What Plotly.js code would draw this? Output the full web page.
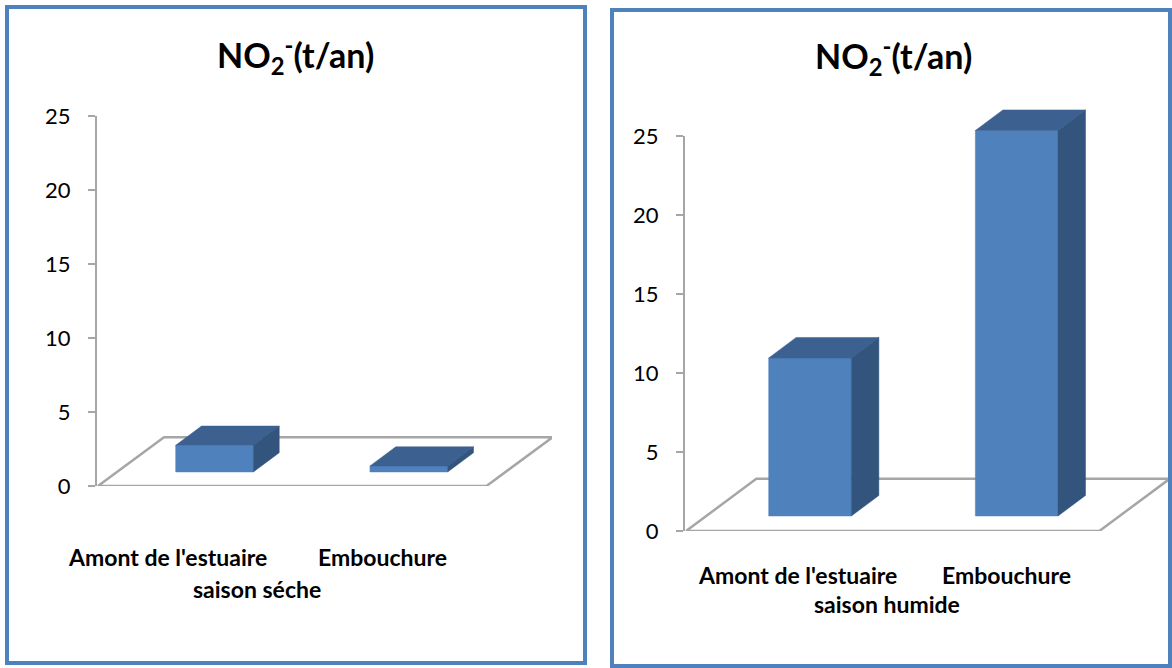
<!DOCTYPE html>
<html>
<head>
<meta charset="utf-8">
<script src="https://cdn.plot.ly/plotly-3.0.1.min.js"></script>
<style>html,body{margin:0;padding:0;background:#fff;}#chart{width:1172px;height:668px;}</style>
</head>
<body>
<div id="chart"></div>
<script>
// ---- data ----
const categories = ["Amont de l'estuaire", "Embouchure"];
const drySeasonValues = [1.8, 0.4];
const wetSeasonValues = [10, 24.4];
const seasonLabels = ["saison séche", "saison humide"];
const chartTitle = "NO<sub>2</sub><sup>-</sup>(t/an)";
const yTickValues = [0, 5, 10, 15, 20, 25];

// ---- style ----
const FONT = "Lato, 'Open Sans', sans-serif";
const FRONT = "#4F81BD", TOP = "#3C6191", SIDE = "#32547D";
const GRID = "#A6A6A6";
const BAR = {width: 0.4, dx: 0.133, dy: 1.3, base: 0.95};
const FLOOR = {x0: -0.6, x1: 1.4, dx: 0.34, dy: 3.3};
const XRANGE = [-0.605, 1.737];
const YMAX = 25, YEXT = 30; // visible axis max, drawing-axis max (same scale, taller domain)

const panels = [
  {values: drySeasonValues, season: seasonLabels[0], xa: 'x', ya: 'y', da: 'y3',
   xdom: [97/1172, 552/1172], ydom: [(668-486)/668, (668-116)/668],
   labelX: [-0.24, 0.866], labelY: (668-557)/668, seasonX: 257/1172, seasonY: (668-589)/668,
   titleX: 295/1172, titleY: (668-55)/668},
  {values: wetSeasonValues, season: seasonLabels[1], xa: 'x2', ya: 'y2', da: 'y4',
   xdom: [685/1172, 1169/1172], ydom: [(668-531)/668, (668-136)/668],
   labelX: [-0.06, 0.95], labelY: (668-575)/668, seasonX: 887/1172, seasonY: (668-604)/668,
   titleX: 893/1172, titleY: (668-57)/668}
];

const traces = [];
const annotations = [];
const layout = {
  width: 1172, height: 668, margin: {l: 0, r: 0, t: 0, b: 0},
  paper_bgcolor: '#fff', plot_bgcolor: 'rgba(0,0,0,0)', showlegend: false,
  font: {family: FONT, color: '#000'},
  annotations: annotations,
  shapes: [
    {type: 'rect', xref: 'paper', yref: 'paper', x0: 7/1172, x1: 585/1172, y0: (668-663)/668, y1: (668-7)/668,
     line: {color: '#4F81BD', width: 4}},
    {type: 'rect', xref: 'paper', yref: 'paper', x0: 612/1172, x1: 1170/1172, y0: (668-666)/668, y1: (668-10)/668,
     line: {color: '#4F81BD', width: 4}}
  ]
};

const key = a => a.replace('x', 'xaxis').replace('y', 'yaxis');

panels.forEach((p, pi) => {
  layout[key(p.xa)] = {domain: p.xdom, range: XRANGE, visible: false, fixedrange: true, anchor: p.ya};
  layout[key(p.ya)] = {domain: p.ydom, range: [0, YMAX], tickvals: yTickValues, anchor: p.xa,
    showline: true, linecolor: GRID, linewidth: 2, ticks: 'outside', ticklen: 7, tickwidth: 2, tickcolor: GRID,
    showgrid: false, zeroline: false, tickfont: {family: FONT, size: 22, color: '#000'},
    ticklabelstandoff: 13, fixedrange: true};
  const top = p.ydom[0] + (p.ydom[1] - p.ydom[0]) * YEXT / YMAX;
  layout[key(p.da)] = {domain: [p.ydom[0], top], range: [0, YEXT], visible: false, anchor: p.xa, fixedrange: true};

  // placeholder so the visible value axis is drawn
  traces.push({type: 'scatter', mode: 'markers', x: [null], y: [null], xaxis: p.xa, yaxis: p.ya, hoverinfo: 'skip'});

  // floor
  const fx = [FLOOR.x0, FLOOR.x1, FLOOR.x1 + FLOOR.dx, FLOOR.x0 + FLOOR.dx, FLOOR.x0];
  const fy = [0, 0, FLOOR.dy, FLOOR.dy, 0];
  traces.push({type: 'scatter', mode: 'lines', x: fx, y: fy, xaxis: p.xa, yaxis: p.da,
    line: {color: GRID, width: 2.5}, cliponaxis: false, hoverinfo: 'skip'});

  // bars (front, top, side faces)
  p.values.forEach((v, i) => {
    const l = i - BAR.width / 2, r = i + BAR.width / 2;
    const b = BAR.base, t = BAR.base + v;
    const faces = [
      {x: [l, r, r, l, l], y: [b, b, t, t, b], c: FRONT},
      {x: [l, r, r + BAR.dx, l + BAR.dx, l], y: [t, t, t + BAR.dy, t + BAR.dy, t], c: TOP},
      {x: [r, r + BAR.dx, r + BAR.dx, r, r], y: [b, b + BAR.dy, t + BAR.dy, t, b], c: SIDE}
    ];
    faces.forEach(f => traces.push({type: 'scatter', mode: 'lines', x: f.x, y: f.y, xaxis: p.xa, yaxis: p.da,
      fill: 'toself', fillcolor: f.c, line: {color: f.c, width: 0.5}, cliponaxis: false,
      name: categories[i], hovertemplate: categories[i] + ': ' + v + '<extra></extra>'}));
  });

  // category labels
  categories.forEach((c, i) => annotations.push({xref: p.xa, yref: 'paper', x: p.labelX[i], y: p.labelY,
    text: '<b>' + c + '</b>', showarrow: false, xanchor: 'center', yanchor: 'middle',
    font: {family: FONT, size: 23, color: '#000'}}));
  annotations.push({xref: 'paper', yref: 'paper', x: p.seasonX, y: p.seasonY, text: '<b>' + p.season + '</b>',
    showarrow: false, xanchor: 'center', yanchor: 'middle', font: {family: FONT, size: 23, color: '#000'}});
  annotations.push({xref: 'paper', yref: 'paper', x: p.titleX, y: p.titleY, text: '<b>' + chartTitle + '</b>',
    showarrow: false, xanchor: 'center', yanchor: 'middle', font: {family: FONT, size: 34, color: '#000'}});
});

Plotly.newPlot('chart', traces, layout, {displayModeBar: false, staticPlot: true});
</script>
</body>
</html>
